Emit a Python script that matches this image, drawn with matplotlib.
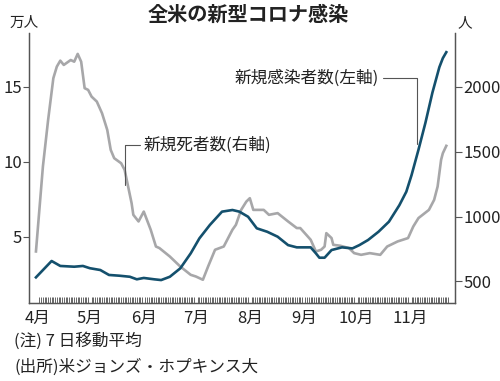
import matplotlib
matplotlib.use("Agg")
import matplotlib.pyplot as plt
import pandas as pd

plt.rcParams['font.family'] = ['Noto Sans CJK JP', 'DejaVu Sans']

# 新規感染者数 (万人, 左軸)
case_dates = ["2020-03-31", "2020-04-09", "2020-04-14", "2020-04-22", "2020-04-27",
              "2020-05-01", "2020-05-07", "2020-05-12", "2020-05-18", "2020-05-24",
              "2020-05-28", "2020-06-01", "2020-06-07", "2020-06-11", "2020-06-16",
              "2020-06-22", "2020-06-28", "2020-07-03", "2020-07-09", "2020-07-16",
              "2020-07-22", "2020-07-26", "2020-07-31", "2020-08-05", "2020-08-11",
              "2020-08-17", "2020-08-23", "2020-08-28", "2020-09-05", "2020-09-08",
              "2020-09-10", "2020-09-13", "2020-09-17", "2020-09-23", "2020-09-29",
              "2020-10-03", "2020-10-08", "2020-10-14", "2020-10-20", "2020-10-26",
              "2020-10-30", "2020-11-02", "2020-11-06", "2020-11-10", "2020-11-14",
              "2020-11-18", "2020-11-20", "2020-11-22"]
case_values = [2.29, 3.38, 3.05, 3.0, 3.05,
               2.9, 2.78, 2.45, 2.4, 2.33,
               2.16, 2.25, 2.16, 2.11, 2.33,
               2.89, 3.89, 4.89, 5.78, 6.67,
               6.78, 6.67, 6.33, 5.56, 5.33,
               5.0, 4.44, 4.29, 4.29, 3.89,
               3.6, 3.6, 4.11, 4.29, 4.22,
               4.44, 4.78, 5.33, 6.0, 7.1,
               8.0, 9.1, 10.8, 12.6, 14.6,
               16.3, 16.9, 17.3]

# 新規死者数 (人, 右軸)
death_dates = ["2020-03-31", "2020-04-04", "2020-04-07", "2020-04-10", "2020-04-12",
               "2020-04-14", "2020-04-16", "2020-04-20", "2020-04-22", "2020-04-24",
               "2020-04-26", "2020-04-28", "2020-04-30", "2020-05-02", "2020-05-05",
               "2020-05-08", "2020-05-11", "2020-05-13", "2020-05-15", "2020-05-19",
               "2020-05-21", "2020-05-23", "2020-05-25", "2020-05-26", "2020-05-29",
               "2020-06-01", "2020-06-05", "2020-06-08", "2020-06-10", "2020-06-16",
               "2020-06-22", "2020-06-28", "2020-07-01", "2020-07-05", "2020-07-08",
               "2020-07-12", "2020-07-17", "2020-07-22", "2020-07-24", "2020-07-27",
               "2020-07-30", "2020-08-01", "2020-08-03", "2020-08-09", "2020-08-12",
               "2020-08-17", "2020-08-23", "2020-08-28", "2020-08-30", "2020-09-05",
               "2020-09-08", "2020-09-11", "2020-09-13", "2020-09-14", "2020-09-17",
               "2020-09-18", "2020-09-22", "2020-09-27", "2020-09-30", "2020-10-04",
               "2020-10-09", "2020-10-15", "2020-10-19", "2020-10-25", "2020-10-31",
               "2020-11-03", "2020-11-06", "2020-11-12", "2020-11-15", "2020-11-17",
               "2020-11-19", "2020-11-20", "2020-11-22"]
death_values = [731, 1385, 1744, 2065, 2154,
                2200, 2167, 2205, 2192, 2252,
                2192, 1988, 1975, 1923, 1885,
                1795, 1667, 1513, 1449, 1410,
                1359, 1231, 1103, 1013, 962,
                1038, 898, 769, 757, 692,
                615, 551, 538, 513, 615,
                744, 769, 898, 936, 1051,
                1115, 1141, 1051, 1051, 1013,
                1026, 962, 911, 911, 821,
                731, 744, 769, 872, 834,
                782, 775, 757, 718, 705,
                718, 705, 769, 808, 834,
                923, 988, 1051, 1128, 1231,
                1436, 1487, 1544]

month_ticks = ["2020-04-01", "2020-05-01", "2020-06-01", "2020-07-01",
               "2020-08-01", "2020-09-01", "2020-10-01", "2020-11-01"]
month_labels = ["4月", "5月", "6月", "7月", "8月", "9月", "10月", "11月"]
left_ticks = [5, 10, 15]
right_ticks = [500, 1000, 1500, 2000]

cd = pd.to_datetime(case_dates)
dd = pd.to_datetime(death_dates)

fig = plt.figure(figsize=(5.0, 3.81), dpi=100)
ax = fig.add_axes([0.058, 0.2047, 0.852, 0.7087])
ax2 = ax.twinx()

BLUE = "#14506d"
GRAY = "#a7a7a9"
SPINE = "#555555"
TXT = "#222222"

ax2.plot(dd, death_values, color=GRAY, lw=1.9, solid_joinstyle="round", zorder=2)
ax.plot(cd, case_values, color=BLUE, lw=1.9, solid_joinstyle="round", zorder=3)
ax.set_zorder(ax2.get_zorder() + 1)
ax.patch.set_visible(False)

ax.set_xlim(pd.Timestamp("2020-03-27"), pd.Timestamp("2020-11-27"))
ax.set_ylim(0.58, 18.58)
ax2.set_ylim(334, 2413)

for a in (ax, ax2):
    a.spines['top'].set_visible(False)
    for s in ('left', 'right', 'bottom'):
        a.spines[s].set_color(SPINE)
        a.spines[s].set_linewidth(0.9)

ax.set_yticks(left_ticks)
ax.set_yticklabels([str(v) for v in left_ticks])
ax2.set_yticks(right_ticks)
ax2.set_yticklabels([str(v) for v in right_ticks])
ax.tick_params(axis='y', direction='out', length=4, width=0.8, color=SPINE,
               labelsize=12, labelcolor=TXT, pad=1)
ax2.tick_params(axis='y', direction='out', length=5, width=0.8, color=SPINE,
                labelsize=12, labelcolor=TXT, pad=1)

ax.set_xticks(pd.to_datetime(month_ticks))
ax.set_xticklabels(month_labels)
minor = pd.date_range(cd.min() + pd.Timedelta(days=1), cd.max() + pd.Timedelta(days=1), freq="D")
ax.set_xticks(minor, minor=True)
ax.tick_params(axis='x', which='major', length=0, labelsize=12, labelcolor=TXT, pad=5)
ax.tick_params(axis='x', which='minor', direction='in', length=4, width=0.7, color="#666666")

# Annotations with leader lines
ax2.annotate("新規死者数(右軸)", xy=(pd.Timestamp("2020-05-21"), 1244),
             xytext=(pd.Timestamp("2020-06-01"), 1551), textcoords='data',
             fontsize=12, color=TXT, va='center', ha='left',
             arrowprops=dict(arrowstyle='-', color="#555555", lw=0.8,
                             connectionstyle="angle,angleA=0,angleB=90,rad=0",
                             shrinkA=1, shrinkB=0))
ax.annotate("新規感染者数(左軸)", xy=(pd.Timestamp("2020-11-05"), 11.2),
            xytext=(pd.Timestamp("2020-10-14"), 15.58), textcoords='data',
            fontsize=12, color=TXT, va='center', ha='right',
            arrowprops=dict(arrowstyle='-', color="#555555", lw=0.8,
                            connectionstyle="angle,angleA=0,angleB=90,rad=0",
                            shrinkA=1, shrinkB=0))

fig.text(0.496, 0.962, "全米の新型コロナ感染", ha='center', va='center',
         fontsize=14.5, fontweight='bold', color=TXT)
fig.text(0.048, 0.94, "万人", ha='center', va='center', fontsize=10.5, color=TXT)
fig.text(0.93, 0.94, "人", ha='center', va='center', fontsize=10.5, color=TXT)
fig.text(0.028, 0.105, "(注) 7 日移動平均", ha='left', va='center', fontsize=12, color=TXT)
fig.text(0.028, 0.037, "(出所)米ジョンズ・ホプキンス大", ha='left', va='center', fontsize=12, color=TXT)

fig.savefig("out.png", dpi=100, facecolor="white")
